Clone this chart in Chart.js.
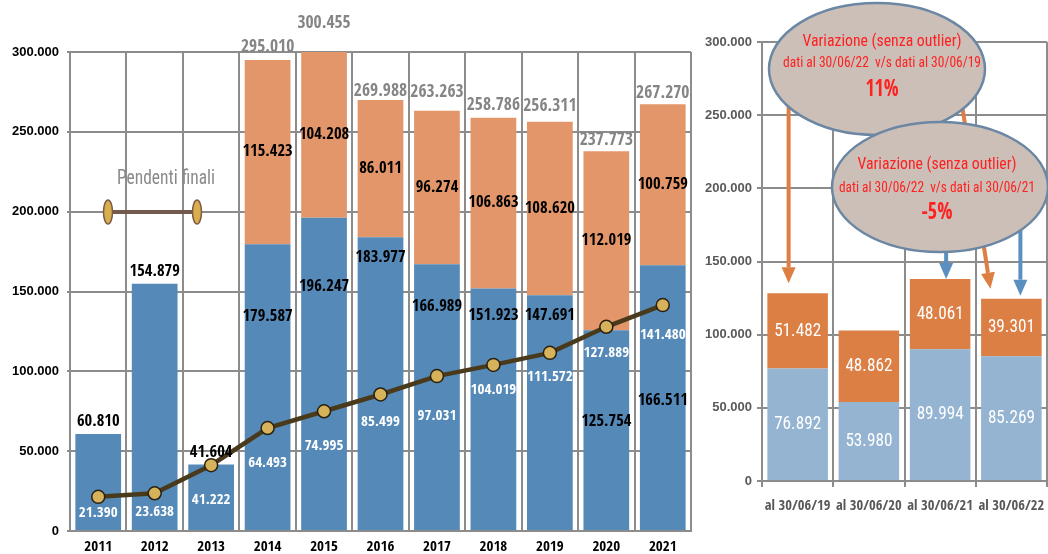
<!DOCTYPE html>
<html>
<head>
<meta charset="utf-8">
<script src="https://cdn.jsdelivr.net/npm/chart.js@4.4.0/dist/chart.umd.min.js"></script>
<style>
  html, body { margin: 0; padding: 0; background: #fff; }
  #wrap { position: relative; width: 1048px; height: 554px; overflow: hidden; }
  #cLeft { position: absolute; left: 0; top: 0; }
  #cRight { position: absolute; left: 700px; top: 0; }
</style>
</head>
<body>
<div id="wrap">
  <canvas id="cLeft" width="700" height="554"></canvas>
  <canvas id="cRight" width="348" height="554"></canvas>
</div>
<script>
// serie storica 2011-2021
const anni = ['2011', '2012', '2013', '2014', '2015', '2016', '2017', '2018', '2019', '2020', '2021'];
const serieBlu = [60810, 154879, 41604, 179587, 196247, 183977, 166989, 151923, 147691, 125754, 166511];
const serieArancio = [null, null, null, 115423, 104208, 86011, 96274, 106863, 108620, 112019, 100759];
const pendentiFinali = [21390, 23638, 41222, 64493, 74995, 85499, 97031, 104019, 111572, 127889, 141480];
const tickSinistra = [0, 50000, 100000, 150000, 200000, 250000, 300000];

// confronto al 30/06
const date = ['al 30/06/19', 'al 30/06/20', 'al 30/06/21', 'al 30/06/22'];
const serieAzzurra = [76892, 53980, 89994, 85269];
const serieArancioDx = [51482, 48862, 48061, 39301];
const tickDestra = [0, 50000, 100000, 150000, 200000, 250000, 300000];

// spostamenti delle etichette (in pixel), come nell'originale
const alzataTotali = [0, 0, 0, 13, 28, 8, 18, 12, 15, 11, 11];
const discesaBlu = [0, 0, 0, 72, 69, 20, 42, 27, 21, 91, 136];
const discesaLinea = [16, 19, 35, 35, 35, 28, 40, 25, 24, 26, 30];

const GRIGLIA = '#8c8c8c';
const NARROW = '"Open Sans Condensed", "Roboto Condensed", sans-serif';
const LIGHT = '"Roboto Condensed", "Open Sans Condensed", sans-serif';
const SANS = '"Liberation Sans", Arial, sans-serif';

function fmt(v) {
  return String(v).replace(/\B(?=(\d{3})+(?!\d))/g, '.');
}

// testo stretto orizzontalmente fino alla larghezza voluta
function testoLargo(ctx, testo, x, y, larghezza) {
  const w = ctx.measureText(testo).width;
  const k = Math.min(1, larghezza / w);
  ctx.save();
  ctx.translate(x, y);
  ctx.scale(k, 1);
  ctx.fillText(testo, 0, 0);
  ctx.restore();
}

const etichetteSinistra = {
  id: 'etichetteSinistra',
  afterDatasetsDraw(chart) {
    const ctx = chart.ctx;
    const mBlu = chart.getDatasetMeta(0);
    const mAr = chart.getDatasetMeta(1);
    const mLin = chart.getDatasetMeta(2);
    ctx.save();
    ctx.textAlign = 'center';
    ctx.textBaseline = 'middle';
    anni.forEach((a, i) => {
      const b = mBlu.data[i];
      ctx.fillStyle = '#000';
      ctx.font = 'bold 16.5px ' + NARROW;
      if (serieArancio[i] == null) {
        ctx.fillText(fmt(serieBlu[i]), b.x, b.y - 12);
      } else {
        ctx.fillText(fmt(serieBlu[i]), b.x, b.y + discesaBlu[i]);
        const o = mAr.data[i];
        ctx.fillText(fmt(serieArancio[i]), o.x, (o.y + o.base) / 2);
        ctx.fillStyle = '#858585';
        ctx.font = 'bold 17.5px ' + NARROW;
        ctx.fillText(fmt(serieBlu[i] + serieArancio[i]), o.x, o.y - alzataTotali[i]);
      }
      const p = mLin.data[i];
      ctx.fillStyle = '#fff';
      ctx.font = 'bold 15px ' + NARROW;
      ctx.fillText(fmt(pendentiFinali[i]), p.x, p.y + discesaLinea[i]);
    });

    // legenda interna "Pendenti finali"
    ctx.fillStyle = '#8a8a8a';
    ctx.font = '21px ' + LIGHT;
    testoLargo(ctx, 'Pendenti finali', 166, 179, 98);
    ctx.strokeStyle = '#735a4c';
    ctx.lineWidth = 4;
    ctx.beginPath();
    ctx.moveTo(108, 212);
    ctx.lineTo(197, 212);
    ctx.stroke();
    [108, 197].forEach(x => {
      ctx.beginPath();
      ctx.ellipse(x, 212, 4.5, 12, 0, 0, Math.PI * 2);
      ctx.fillStyle = '#d9ae4c';
      ctx.fill();
      ctx.lineWidth = 1.5;
      ctx.strokeStyle = '#7d5a48';
      ctx.stroke();
    });
    ctx.restore();
  }
};

new Chart(document.getElementById('cLeft'), {
  type: 'bar',
  data: {
    labels: anni,
    datasets: [
      { label: 'blu', data: serieBlu, backgroundColor: '#5589b8', order: 1, stack: 'barre' },
      { label: 'arancio', data: serieArancio, backgroundColor: '#e3966a', order: 1, stack: 'barre' },
      {
        type: 'line', label: 'Pendenti finali', data: pendentiFinali, stack: 'linea', order: 0,
        borderColor: '#4a3a1c', borderWidth: 4.5, tension: 0,
        pointRadius: 6.5, pointBackgroundColor: '#d6b25a', pointBorderColor: '#2a2010', pointBorderWidth: 1.5
      }
    ]
  },
  options: {
    responsive: false,
    animation: false,
    events: [],
    layout: { padding: { top: 52, right: 9, left: 0, bottom: 0 } },
    plugins: { legend: { display: false }, tooltip: { enabled: false } },
    datasets: { bar: { categoryPercentage: 1, barPercentage: 0.81 } },
    scales: {
      x: {
        stacked: true,
        grid: { color: GRIGLIA, lineWidth: 2, drawTicks: false, offset: true },
        border: { color: GRIGLIA, width: 2 },
        ticks: { color: '#000', font: { family: NARROW, size: 15, weight: 'bold' }, padding: 7, maxRotation: 0, autoSkip: false },
        afterFit(s) { s.height = 23; s.paddingLeft = 0; s.paddingRight = 0; }
      },
      y: {
        stacked: true,
        min: 0, max: 300000,
        afterBuildTicks(s) { s.ticks = tickSinistra.map(v => ({ value: v })); },
        grid: { color: GRIGLIA, lineWidth: 2, tickLength: 3 },
        border: { color: GRIGLIA, width: 2 },
        ticks: { color: '#000', font: { family: SANS, size: 13, weight: 'bold' }, padding: 8, callback: v => fmt(v) },
        afterFit(s) { s.width = 70; }
      }
    }
  },
  plugins: [etichetteSinistra]
});

// frecce ed ellissi di commento
function freccia(ctx, x0, y0, x1, y1, colore) {
  const ang = Math.atan2(y1 - y0, x1 - x0);
  const lungh = 16, larg = 7;
  const bx = x1 - Math.cos(ang) * lungh, by = y1 - Math.sin(ang) * lungh;
  ctx.strokeStyle = colore;
  ctx.fillStyle = colore;
  ctx.lineWidth = 4;
  ctx.beginPath();
  ctx.moveTo(x0, y0);
  ctx.lineTo(bx, by);
  ctx.stroke();
  ctx.beginPath();
  ctx.moveTo(x1, y1);
  ctx.lineTo(bx - Math.sin(ang) * larg, by + Math.cos(ang) * larg);
  ctx.lineTo(bx + Math.sin(ang) * larg, by - Math.cos(ang) * larg);
  ctx.closePath();
  ctx.fill();
}

function nuvola(ctx, cx, cy, rx, ry, tx, righe) {
  ctx.beginPath();
  ctx.ellipse(cx, cy, rx, ry, 0, 0, Math.PI * 2);
  ctx.fillStyle = '#cbbfb8';
  ctx.fill();
  ctx.lineWidth = 2.5;
  ctx.strokeStyle = '#6c87a3';
  ctx.stroke();
  ctx.fillStyle = '#ff2020';
  ctx.textAlign = 'center';
  ctx.textBaseline = 'middle';
  righe.forEach(r => {
    ctx.font = r.font;
    testoLargo(ctx, r.testo, tx, r.y, r.w);
  });
}

const annotazioniDestra = {
  id: 'annotazioniDestra',
  afterDatasetsDraw(chart) {
    const ctx = chart.ctx;
    const mAz = chart.getDatasetMeta(0);
    const mAr = chart.getDatasetMeta(1);
    ctx.save();
    ctx.textAlign = 'center';
    ctx.textBaseline = 'middle';
    ctx.fillStyle = '#fff';
    ctx.font = '19px ' + LIGHT;
    date.forEach((d, i) => {
      const a = mAz.data[i], o = mAr.data[i];
      testoLargo(ctx, fmt(serieAzzurra[i]), a.x, (a.y + a.base) / 2, 47);
      testoLargo(ctx, fmt(serieArancioDx[i]), o.x, (o.y + o.base) / 2, 47);
    });

    const arancio = '#dd7f43', blu = '#5a8fc0';
    const t = mAr.data;
    freccia(ctx, t[0].x - 9, 100, t[0].x - 9, t[0].y - 10, arancio);
    freccia(ctx, 262, 105, t[3].x - 21, t[3].y - 10, arancio);
    freccia(ctx, t[2].x + 6, 240, t[2].x + 6, t[2].y, blu);
    freccia(ctx, t[3].x + 9, 220, t[3].x + 9, t[3].y - 3, blu);

    nuvola(ctx, 177, 69, 108, 66, 182, [
      { testo: 'Variazione (senza outlier)', font: '17px ' + LIGHT, y: 42, w: 159 },
      { testo: 'dati al 30/06/22  v/s dati al 30/06/19', font: '14px ' + LIGHT, y: 63, w: 198 },
      { testo: '11%', font: 'bold 23px ' + NARROW, y: 90, w: 33 }
    ]);
    nuvola(ctx, 240, 187, 108, 65, 237, [
      { testo: 'Variazione (senza outlier)', font: '17px ' + LIGHT, y: 165, w: 159 },
      { testo: 'dati al 30/06/22  v/s dati al 30/06/21', font: '14px ' + LIGHT, y: 188, w: 196 },
      { testo: '-5%', font: 'bold 23px ' + NARROW, y: 213, w: 31 }
    ]);
    ctx.restore();
  }
};

new Chart(document.getElementById('cRight'), {
  type: 'bar',
  data: {
    labels: date,
    datasets: [
      { label: 'azzurro', data: serieAzzurra, backgroundColor: '#94b4d2' },
      { label: 'arancio', data: serieArancioDx, backgroundColor: '#dc7f45' }
    ]
  },
  options: {
    responsive: false,
    animation: false,
    events: [],
    layout: { padding: { top: 42, right: 1, left: 0, bottom: 0 } },
    plugins: { legend: { display: false }, tooltip: { enabled: false } },
    datasets: { bar: { categoryPercentage: 1, barPercentage: 0.85 } },
    scales: {
      x: {
        stacked: true,
        grid: { color: GRIGLIA, lineWidth: 2, tickLength: 6, offset: true },
        border: { color: GRIGLIA, width: 2 },
        ticks: { color: '#595959', font: { family: NARROW, size: 14.5, weight: 'bold' }, padding: 11, maxRotation: 0, autoSkip: false },
        afterFit(s) { s.height = 73; s.paddingLeft = 0; s.paddingRight = 0; }
      },
      y: {
        stacked: true,
        min: 0, max: 300000,
        afterBuildTicks(s) { s.ticks = tickDestra.map(v => ({ value: v })); },
        grid: { color: GRIGLIA, lineWidth: 2, tickLength: 5 },
        border: { color: GRIGLIA, width: 2 },
        ticks: { color: '#595959', font: { family: SANS, size: 13, weight: 'bold' }, padding: 5, callback: v => fmt(v) },
        afterFit(s) { s.width = 62; }
      }
    }
  },
  plugins: [annotazioniDestra]
});
</script>
</body>
</html>
